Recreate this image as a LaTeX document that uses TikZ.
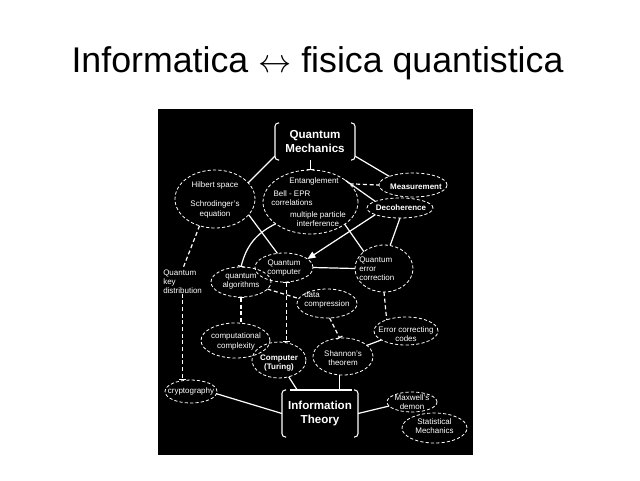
\documentclass[tikz,border=0pt]{standalone}
\usepackage{fontspec}
\setmainfont{Liberation Sans}
\usetikzlibrary{shapes.geometric,arrows.meta,calc}
\begin{document}
\begin{tikzpicture}[x=0.75pt,y=-0.75pt,
  ell/.style 2 args={ellipse, draw=white, line width=0.6pt, dash pattern=on 2.4pt off 1.6pt, inner sep=0pt, outer sep=0pt, minimum width=#1*1.5pt, minimum height=#2*1.5pt},
  tx/.style={text=white, font=\fontsize{6}{6.9}\selectfont, align=center, inner sep=0pt},
  bx/.style={text=white, font=\fontsize{6}{6.9}\selectfont\bfseries, align=center, inner sep=0pt},
  box/.style={text=white, font=\fontsize{8.7}{10.5}\selectfont\bfseries, align=center, inner sep=0pt, outer sep=0pt},
  brk/.style={draw=white, line width=0.8pt, rounded corners=2.5pt},
  con/.style={draw=white, line width=0.9pt},
  dcon/.style={con, dash pattern=on 3pt off 2pt},
  barend/.style={-{Bar[width=5pt]}},
  barstart/.style={{Bar[width=5pt]}-},
  barboth/.style={{Bar[width=5pt]}-{Bar[width=5pt]}}
]
\useasboundingbox (0,0) rectangle (640,480);
\fill[white] (0,0) rectangle (640,480);
\node[anchor=base, font=\fontsize{26.8}{30}\selectfont] (title) at (317.5,72) {Informatica $\leftrightarrow$ fisica quantistica};
\fill[black] (158,109) rectangle (473,455);

% boxes
\node[box, minimum width=60pt, minimum height=27.75pt] (qm) at (315,141.5) {Quantum\\Mechanics};
\node[box, minimum width=57pt, minimum height=35.25pt] (it) at (320,413.5) {Information\\Theory};
\foreach \n in {qm,it} {
  \draw[brk] ([xshift=3pt]\n.north west) -- (\n.north west) -- (\n.south west) -- ([xshift=3pt]\n.south west);
  \draw[brk] ([xshift=-3pt]\n.north east) -- (\n.north east) -- (\n.south east) -- ([xshift=-3pt]\n.south east);
}
\draw[con] ([xshift=6pt]it.north west) -- ([xshift=-4.5pt]it.north east);

% ellipses
\node[ell={40}{29}] (hil) at (215,199) {};
\node[tx] (hilA) at (215,185) {Hilbert space};
\node[tx] (hilB) at (215,209.5) {Schrodinger's\\equation};
\node[ell={47.5}{32}] (ent) at (310.5,202) {};
\node[tx] (entA) at (314,181) {Entanglement};
\node[tx] (entB) at (292,198) {Bell - EPR\\correlations};
\node[tx] (entC) at (318,219.5) {multiple particle\\interference};
\node[ell={34}{12}] (meas) at (413,185) {};
\node[bx] (measT) at (416,187) {Measurement};
\node[ell={33}{10}] (deco) at (400,208) {};
\node[bx] (decoT) at (401,208) {Decoherence};
\node[ell={29}{14.5}] (qc) at (284,267.5) {};
\node[tx] (qcT) at (284,268) {Quantum\\computer};
\node[ell={30}{15}] (qa) at (241,282) {};
\node[tx] (qaT) at (241,281.5) {quantum\\algorithms};
\node[ell={29}{23.5}] (qec) at (384,268.5) {};
\node[tx, align=left, anchor=west] (qecT) at (359,269) {Quantum\\error\\correction};
\node[ell={30}{14.5}] (dc) at (327,303.5) {};
\node[tx, align=left, anchor=west] (dcT) at (304,300) {data\\compression};
\node[ell={34.5}{17.5}] (cc) at (235.5,340.5) {};
\node[tx] (ccT) at (236,341.5) {computational\\complexity};
\node[ell={27}{18}] (ct) at (279,360) {};
\node[bx] (ctT) at (279,363) {Computer\\(Turing)};
\node[ell={30}{18.5}] (sh) at (343,356.5) {};
\node[tx] (shT) at (343,358.5) {Shannon's\\theorem};
\node[ell={32}{14}] (ecc) at (406,331) {};
\node[tx] (eccT) at (406,334) {Error correcting\\codes};
\node[ell={26}{11.5}] (cry) at (191,391.5) {};
\node[tx] (cryT) at (191,391) {cryptography};
\node[ell={25}{10}] (mx) at (412,402) {};
\node[tx] (mxT) at (412,402) {Maxwell's\\demon};
\node[ell={32.5}{15}] (sm) at (434.5,428) {};
\node[tx] (smT) at (434.5,426.5) {Statistical\\Mechanics};
\node[tx, align=left, anchor=west] (qkd) at (163,281.5) {Quantum\\key\\distribution};

% connectors
\draw[con] (qm.-160) -- (hil.26);
\draw[con] (qm.-20) -- (meas.160);
\draw[con, barend] (qm.south -| ent.north) -- (ent.north);
\draw[dcon] (ent.25) -- (meas.180);
\draw[con] (ent.32) -- (deco.165);
\draw[con, -{Triangle[length=6pt,width=5pt]}, fill=white] (deco.195) -- (qc.20);
\draw[con] (deco.south) -- (qec.75);
\draw[con] (hil.-25) -- (qc.115);
\draw[con, barend] (ent.212) to[bend right=25] (qa.north);
\draw[con] (ent.-33) -- (qec.140);
\draw[con] (qc.east) -- (qec.west);
\draw[dcon] (hil.240) -- (qkd.north);
\draw[dcon, barend] (qkd.south) -- (qkd.south |- cry.north);
\draw[dcon, barstart] (qa.south) -- (qa.south |- cc.north);
\draw[dcon, barboth] (qc.-80) -- (qc.-80 |- ct.north);
\draw[dcon] (qa.-15) -- (dc.170);
\draw[dcon, barend] (dc.-80) -- (sh.100);
\draw[dcon] (qec.south) -- (ecc.150);
\draw[con] (ecc.200) -- (sh.25);
\draw[con] (ct.-60) -- ($(it.north west)!0.2!(it.north east)$);
\draw[con] (sh.-100) -- (sh.-100 |- it.north);
\draw[con] (cry.-5) -- (it.west);
\draw[con] (it.east) -- (mx.190);
\end{tikzpicture}
\end{document}
